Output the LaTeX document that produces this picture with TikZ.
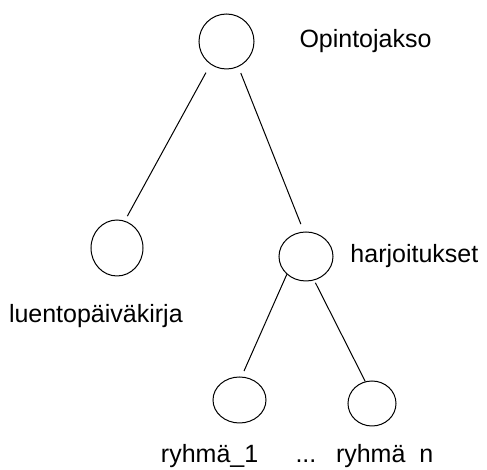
\documentclass[tikz,border=0pt]{standalone}
\usepackage{fontspec}
\setmainfont{Liberation Sans}
\usetikzlibrary{shapes.geometric}
\tikzset{
  solmu/.style={draw, ellipse, line width=0.75pt, inner sep=0pt},
  nimi/.style={anchor=base west, inner sep=0pt, font=\fontsize{18.75pt}{22pt}\selectfont}
}
\begin{document}
\begin{tikzpicture}[x=0.75pt, y=-0.75pt, line width=0.75pt]
    \useasboundingbox (0,0) rectangle (487,470);
    % Solmut
    \node[solmu, minimum width=41.25pt, minimum height=41.25pt] (opintojakso) at (226.5,41.5) {};
    \node[solmu, minimum width=39pt, minimum height=42pt] (luento) at (117,248) {};
    \node[solmu, minimum width=40.5pt, minimum height=36.75pt] (harjoitukset) at (306,256.5) {};
    \node[solmu, minimum width=39.75pt, minimum height=34.5pt] (ryhma1) at (239.5,400) {};
    \node[solmu, minimum width=36pt, minimum height=33.75pt] (ryhman) at (372,403.5) {};
    % Nimet
    \node[nimi] (opintojaksoNimi) at (299,48) {Opintojakso};
    \node[nimi] (harjoituksetNimi) at (350,263) {harjoitukset};
    \node[nimi] (luentoNimi) at (8.5,323) {luentopäiväkirja};
    \node[nimi] (ryhma1Nimi) at (160.5,463) {ryhmä\_1};
    \node[nimi] (pisteet) at (295,463) {...};
    \node[nimi] (ryhmanNimi) at (335.5,463) {ryhmä\phantom{\_}n};
    % Viivat
    \draw[shorten <=7pt, shorten >=4pt] (opintojakso.235) -- (luento.74);
    \draw[shorten <=5pt, shorten >=6pt] (opintojakso.295) -- (harjoitukset.95);
    \draw[shorten >=4.5pt] (harjoitukset.223) -- (ryhma1.85);
    \draw[shorten <=2pt] (harjoitukset.289) -- (ryhman.107);
\end{tikzpicture}
\end{document}
